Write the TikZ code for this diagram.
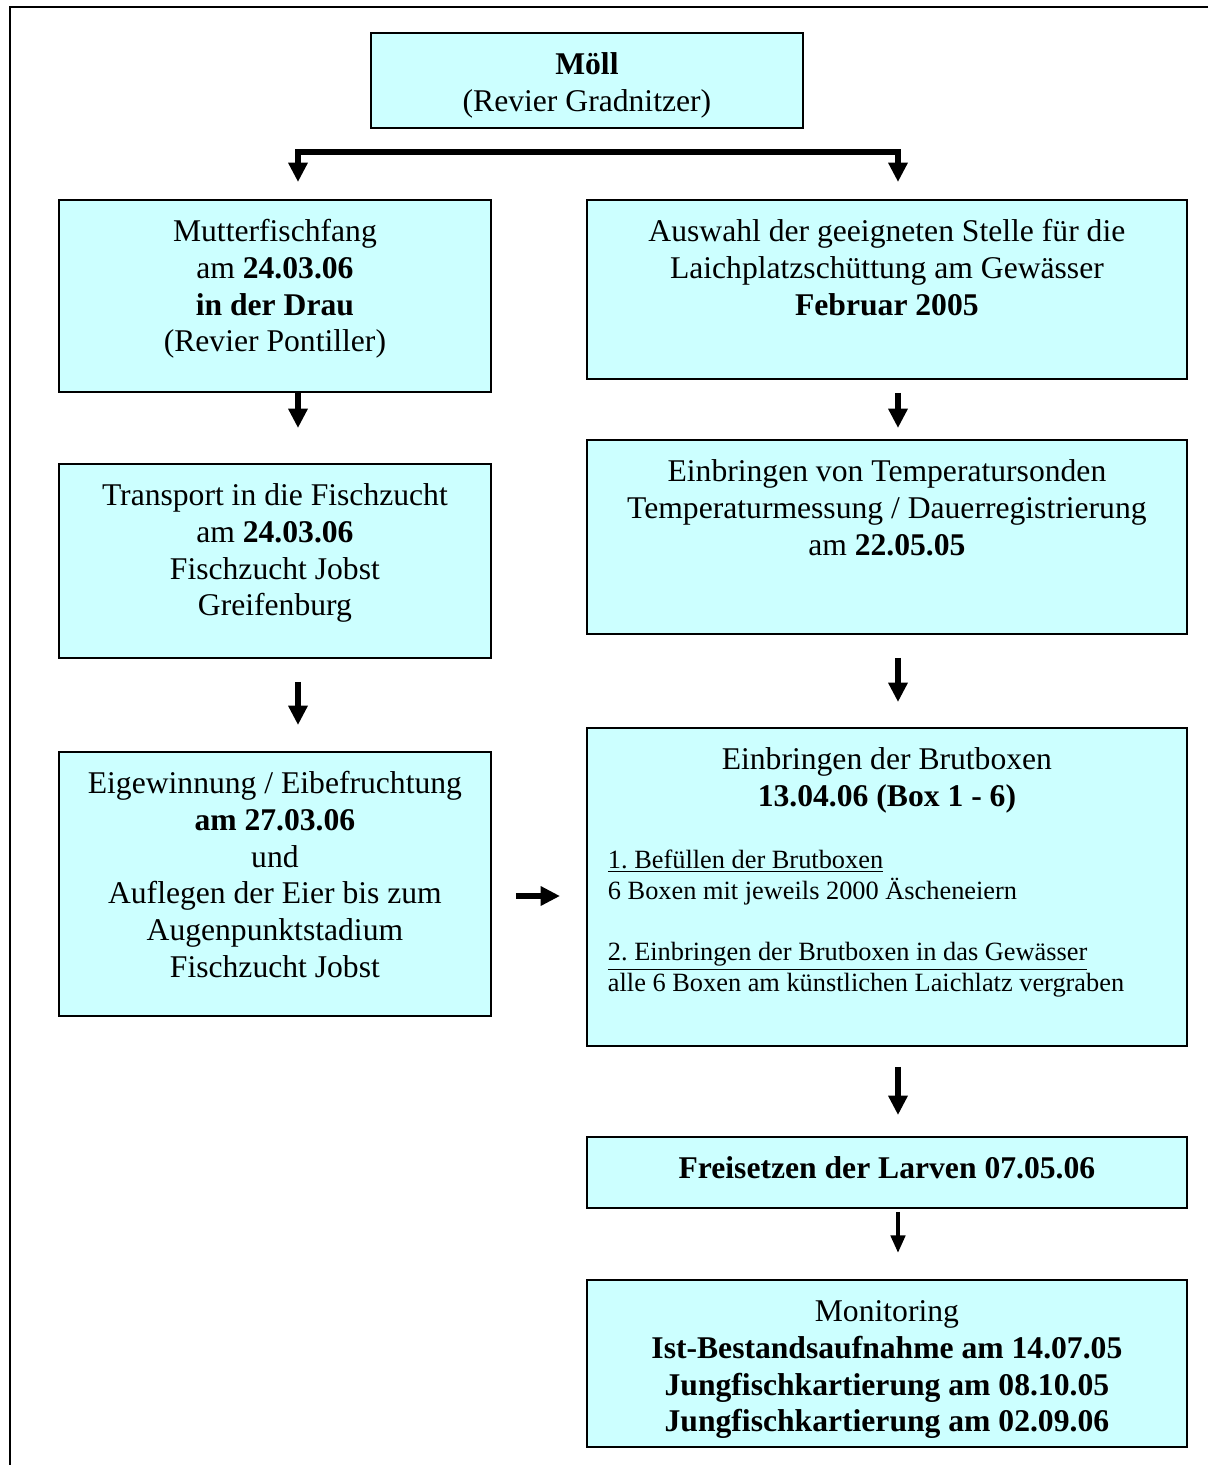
\documentclass[tikz,border=0pt]{standalone}
\usepackage{fontspec}
\setmainfont{Liberation Serif}
\usetikzlibrary{arrows.meta}
\definecolor{boxcyan}{HTML}{CCFFFF}
\frenchspacing
\newcommand{\bodyfont}{\fontsize{18}{21}\selectfont}
\newcommand{\notefont}{\fontsize{15}{17.6}\selectfont}
\newcommand{\boxtext}[3]{\begin{minipage}[t][#2][t]{#1}\vspace*{0.31cm}\centering\bodyfont\strut #3\end{minipage}}

\begin{document}
\begin{tikzpicture}[x=0.02cm, y=-0.02cm,
  box/.style={draw, line width=1.1pt, fill=boxcyan, inner sep=0pt, anchor=north west},
  arr/.style={-{Triangle[width=10.5pt,length=11pt]}, line width=3.4pt},
  thinarr/.style={-{Triangle[width=8pt,length=10pt]}, line width=2.4pt},
  fork/.style={{Triangle[width=10.5pt,length=11pt]}-{Triangle[width=10.5pt,length=11pt]}, line width=3.4pt, line join=miter}]
\useasboundingbox (0,0) rectangle (1208,1465);
\draw[line width=1.2pt] (1208,7) -- (10,7) -- (10,1465);

\node[box] (moell) at (370,32) {\boxtext{8.64cm}{1.9cm}{\textbf{Möll}\\(Revier Gradnitzer)}};
\node[box] (fang) at (58,199) {\boxtext{8.64cm}{3.84cm}{Mutterfischfang\\am \textbf{24.03.06}\\\textbf{in der Drau}\\(Revier Pontiller)}};
\node[box] (transport) at (58,463) {\boxtext{8.64cm}{3.88cm}{Transport in die Fischzucht\\am \textbf{24.03.06}\\Fischzucht Jobst\\Greifenburg}};
\node[box] (eigen) at (58,751) {\boxtext{8.64cm}{5.28cm}{Eigewinnung / Eibefruchtung\\\textbf{am 27.03.06}\\und\\Auflegen der Eier bis zum\\Augenpunktstadium\\Fischzucht Jobst}};
\node[box] (auswahl) at (586,199) {\boxtext{12cm}{3.58cm}{Auswahl der geeigneten Stelle für die\\Laichplatzschüttung am Gewässer\\\textbf{Februar 2005}}};
\node[box] (sonden) at (586,439) {\boxtext{12cm}{3.88cm}{Einbringen von Temperatursonden\\Temperaturmessung / Dauerregistrierung\\am \textbf{22.05.05}}};
\node[box] (brut) at (586,727) {\boxtext{12cm}{6.36cm}{Einbringen der Brutboxen\\\textbf{13.04.06 (Box 1 - 6)}\par\vspace{17.7pt}%
  {\notefont\raggedright\leftskip=0.42cm \underline{1. Befüllen der Brutboxen}\\6 Boxen mit jeweils 2000 Äscheneiern\\[17.6pt]\underline{2. Einbringen der Brutboxen in das Gewässer}\\alle 6 Boxen am künstlichen Laichlatz vergraben\par}}};
\node[box] (larven) at (586,1136) {\boxtext{12cm}{1.42cm}{\textbf{Freisetzen der Larven 07.05.06}}};
\node[box] (monitor) at (586,1279) {\boxtext{12cm}{3.34cm}{Monitoring\\\textbf{Ist-Bestandsaufnahme am 14.07.05}\\\textbf{Jungfischkartierung am 08.10.05}\\\textbf{Jungfischkartierung am 02.09.06}}};

\coordinate (colL) at (298,0);
\coordinate (colR) at (898,0);
\coordinate (bar) at (598,152);
\coordinate (side) at (0,896);
\draw[fork, shorten <=0.34cm, shorten >=0.34cm] (fang.north -| colL) -- (bar -| colL) -- (bar -| colR) -- (auswahl.north -| colR);
\draw[arr, shorten >=0.7cm] (fang.south -| colL) -- (transport.north -| colL);
\draw[arr, shorten <=0.46cm, shorten >=0.52cm] (transport.south -| colL) -- (eigen.north -| colL);
\draw[arr, shorten <=0.26cm, shorten >=0.22cm] (auswahl.south -| colR) -- (sonden.north -| colR);
\draw[arr, shorten <=0.46cm, shorten >=0.5cm] (sonden.south -| colR) -- (brut.north -| colR);
\draw[arr, shorten <=0.4cm, shorten >=0.42cm] (brut.south -| colR) -- (larven.north -| colR);
\draw[thinarr, shorten <=0.06cm, shorten >=0.52cm] (larven.south -| colR) -- (monitor.north -| colR);
\draw[arr, shorten <=0.48cm, shorten >=0.52cm] (eigen.east |- side) -- (brut.west |- side);

\end{tikzpicture}
\end{document}
